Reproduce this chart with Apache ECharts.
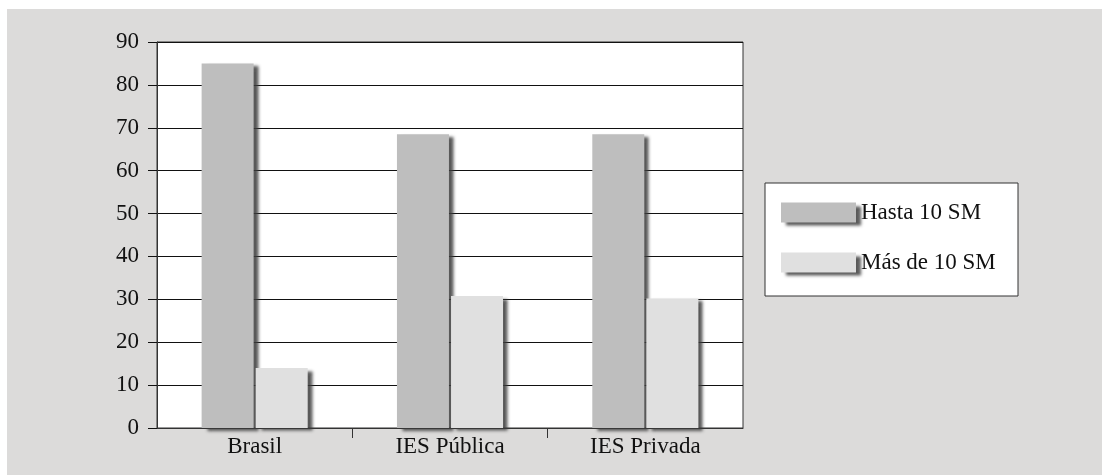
<!DOCTYPE html>
<html>
<head>
<meta charset="utf-8">
<script src="https://cdn.jsdelivr.net/npm/echarts@6/dist/echarts.min.js"></script>
<style>
  html, body { margin: 0; padding: 0; background: #fff; }
  #chart { width: 1102px; height: 475px; }
</style>
</head>
<body>
<div id="chart"></div>
<script>
// data
var categories = ['Brasil', 'IES Pública', 'IES Privada'];
var hasta10 = [85, 68.5, 68.5];
var masDe10 = [14, 30.8, 30.2];
var seriesNames = ['Hasta 10 SM', 'Más de 10 SM'];

var serif = 'Liberation Serif';
var shadow = {
    shadowColor: 'rgba(60,60,60,0.85)',
    shadowBlur: 3,
    shadowOffsetX: 5,
    shadowOffsetY: 3
};

// tick marks only between categories (not at the ends)
var innerBoundaries = categories.slice(1).map(function (c, i) { return i + 1; });

var chart = echarts.init(document.getElementById('chart'));

chart.setOption({
    animation: false,
    textStyle: { fontFamily: serif, color: '#111' },
    graphic: [
        // gray panel behind everything
        { type: 'rect', z: -10, shape: { x: 7, y: 9, width: 1095, height: 466 }, style: { fill: '#dcdbda' } },
        // legend frame
        { type: 'rect', z: -5, shape: { x: 765, y: 183, width: 253, height: 113 }, style: { fill: '#fff', stroke: '#333', lineWidth: 1 } }
    ],
    grid: {
        left: 157, right: 1102 - 743, top: 42, bottom: 475 - 428,
        show: true, backgroundColor: '#fff', borderColor: '#333', borderWidth: 1
    },
    legend: {
        orient: 'vertical',
        left: 776, top: 196,
        itemWidth: 75, itemHeight: 20, itemGap: 27,
        textStyle: { fontFamily: serif, fontSize: 23, color: '#111' },
        data: seriesNames.map(function (n, i) {
            return { name: n, icon: 'rect', itemStyle: Object.assign({ color: i ? '#e0e0e0' : '#bebebe' }, shadow) };
        })
    },
    xAxis: [
        {
            type: 'category',
            position: 'bottom',
            data: categories,
            axisLine: { show: true, lineStyle: { color: '#333' } },
            axisTick: { show: false },
            axisLabel: { fontSize: 23, color: '#111', margin: 7, fontFamily: serif }
        },
        {
            // helper axis, moved down onto the bottom edge, only for the separator ticks
            type: 'value',
            position: 'top',
            offset: -(428 - 42),
            min: 0, max: categories.length,
            axisLine: { show: false },
            axisLabel: { show: false },
            splitLine: { show: false },
            axisTick: {
                show: true, inside: true, length: 10,
                customValues: innerBoundaries,
                lineStyle: { color: '#333', width: 1 }
            }
        }
    ],
    yAxis: {
        type: 'value',
        min: 0, max: 90, interval: 10,
        axisLine: { show: true, lineStyle: { color: '#333' } },
        axisTick: { show: true, length: 9, lineStyle: { color: '#111' } },
        splitLine: { lineStyle: { color: '#111', width: 1 } },
        axisLabel: { fontSize: 23, color: '#111', margin: 18, fontFamily: serif }
    },
    series: [
        {
            name: seriesNames[0], type: 'bar', data: hasta10,
            barWidth: 52, barGap: '4%',
            itemStyle: Object.assign({ color: '#bebebe' }, shadow)
        },
        {
            name: seriesNames[1], type: 'bar', data: masDe10,
            barWidth: 52,
            itemStyle: Object.assign({ color: '#e0e0e0' }, shadow)
        }
    ]
});
</script>
</body>
</html>
